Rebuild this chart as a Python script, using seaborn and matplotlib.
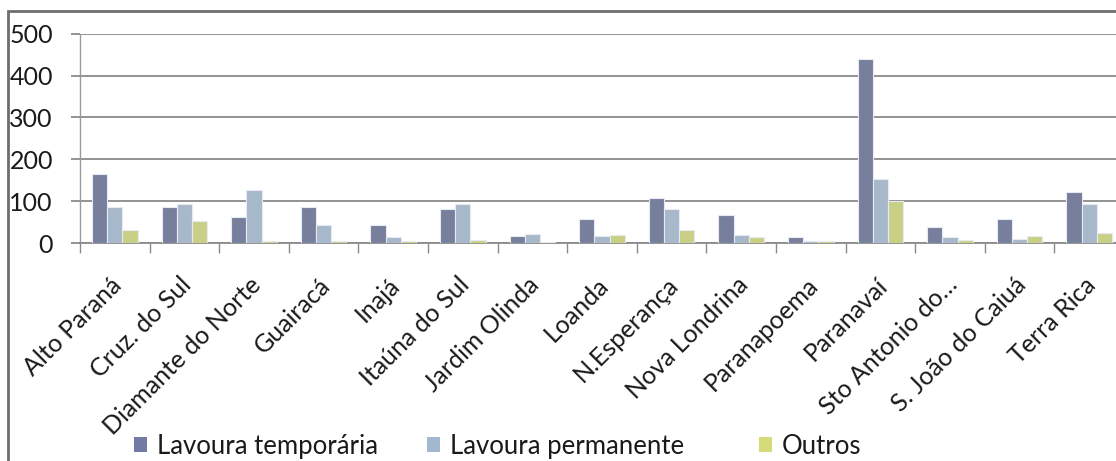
import matplotlib
matplotlib.use("Agg")
import matplotlib.pyplot as plt
import matplotlib.transforms as mtransforms
from matplotlib.patches import Rectangle, Patch
import numpy as np
import pandas as pd
import seaborn as sns

municipios = ["Alto Paraná", "Cruz. do Sul", "Diamante do Norte", "Guairacá", "Inajá",
              "Itaúna do Sul", "Jardim Olinda", "Loanda", "N.Esperança", "Nova Londrina",
              "Paranapoema", "Paranavaí", "Sto Antonio do…", "S. João do Caiuá", "Terra Rica"]
lavoura_temporaria = [164, 85, 61, 85, 42, 82, 17, 57, 108, 67, 14, 440, 38, 57, 123]
lavoura_permanente = [85, 92, 127, 42, 14, 92, 22, 17, 82, 20, 4, 154, 14, 10, 92]
outros = [32, 52, 4, 4, 4, 7, 3, 20, 30, 14, 4, 100, 7, 17, 23]
series = ["Lavoura temporária", "Lavoura permanente", "Outros"]
cores = ["#717BA3", "#A1B8D0", "#D5DB7A"]

df = pd.DataFrame({
    "Município": municipios * 3,
    "Uso": [s for s in series for _ in municipios],
    "Valor": lavoura_temporaria + lavoura_permanente + outros,
})

sns.set_style("white")
plt.rcParams["font.family"] = ["Lato", "DejaVu Sans"]

W, H = 1116, 461
fig = plt.figure(figsize=(W / 100, H / 100), dpi=100)
ax = fig.add_axes([80 / W, 218 / H, 1044 / W, (427.3 - 218) / H])

sns.barplot(data=df, x="Município", y="Valor", hue="Uso", hue_order=series,
            palette=cores, width=0.655, errorbar=None, legend=False,
            edgecolor="#e6eaf2", linewidth=0.8, ax=ax, zorder=3)

ax.set_xlim(-0.5, len(municipios) - 0.5)
ax.set_ylim(0, 500)
ax.set_yticks(np.arange(0, 501, 100))
ax.yaxis.grid(True, color="#8a8a8a", linewidth=1.3, zorder=0)
ax.set_axisbelow(True)
ax.set_xlabel("")
ax.set_ylabel("")

for side in ["top", "right"]:
    ax.spines[side].set_visible(False)
ax.spines["left"].set_color("#9a9a9a")
ax.spines["left"].set_linewidth(1.0)
ax.spines["bottom"].set_color("#8a8a8a")
ax.spines["bottom"].set_linewidth(1.3)

ax.tick_params(axis="y", which="major", length=6.5, width=1.3, color="#8a8a8a",
               pad=13, labelsize=18, labelcolor="#1a1a1a", left=True)
ax.set_xticks(np.arange(-0.5, len(municipios), 1.0), minor=True)
ax.tick_params(axis="x", which="minor", length=7.2, width=1.0, color="#8a8a8a", bottom=True)
ax.tick_params(axis="x", which="major", length=0, pad=8, labelsize=18, labelcolor="#1a1a1a")
shift = mtransforms.ScaledTranslation(-5 / 100, -19 / 100, fig.dpi_scale_trans)
for lbl in ax.get_xticklabels():
    lbl.set_rotation(45)
    lbl.set_ha("right")
    lbl.set_va("top")
    lbl.set_rotation_mode("anchor")
    lbl.set_transform(lbl.get_transform() + shift)

# outer chart border
fig.add_artist(Rectangle((8 / W, -0.2), 2, 450 / H + 0.2, transform=fig.transFigure,
                         fill=False, edgecolor="#6e6e6e", linewidth=2))

# legend entries along the bottom edge
legend_x = [134, 427, 759]
for nome, cor, x0 in zip(series, cores, legend_x):
    fig.legend([Patch(facecolor=cor, edgecolor="none")], [nome], loc="center left",
               bbox_to_anchor=(x0 / W, 15 / H), frameon=False, fontsize=18.5,
               handlelength=0.5, handleheight=0.5, handletextpad=0.4,
               borderpad=0, borderaxespad=0, labelcolor="#1a1a1a")

fig.savefig("out.png", dpi=100)
